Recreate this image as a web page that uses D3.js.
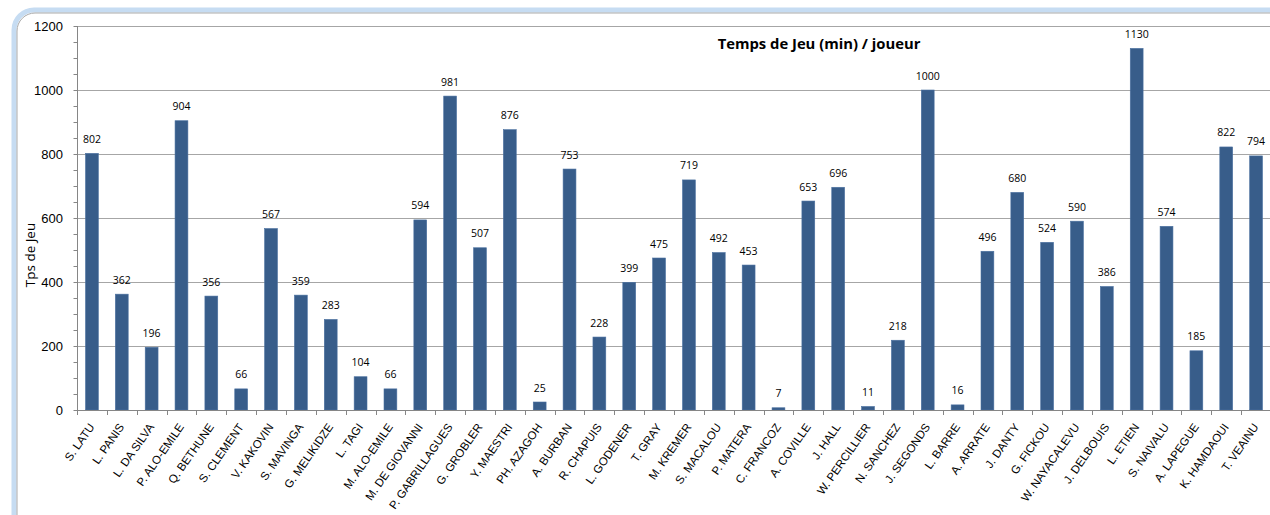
<!DOCTYPE html>
<html>
<head>
<meta charset="utf-8">
<script src="https://cdn.jsdelivr.net/npm/d3@7"></script>
<style>
  body { margin: 0; background: #fff; }
  svg { display: block; }
</style>
</head>
<body>
<div id="chart"></div>
<script>
const players = ["S. LATU", "L.  PANIS", "L. DA SILVA", "P. ALO-EMILE", "Q. BETHUNE", "S. CLEMENT", "V. KAKOVIN",
  "S. MAVINGA", "G. MELIKIDZE", "L. TAGI", "M. ALO-EMILE", "M. DE GIOVANNI", "P. GABRILLAGUES", "G. GROBLER",
  "Y.  MAESTRI", "PH. AZAGOH", "A.  BURBAN", "R. CHAPUIS", "L. GODENER", "T.  GRAY", "M. KREMER", "S. MACALOU",
  "P. MATERA", "C. FRANCOZ", "A. COVILLE", "J. HALL", "W. PERCILLIER", "N. SANCHEZ", "J. SEGONDS", "L. BARRE",
  "A. ARRATE", "J. DANTY", "G.  FICKOU", "W. NAYACALEVU", "J. DELBOUIS", "L. ETIEN", "S. NAIVALU", "A. LAPEGUE",
  "K. HAMDAOUI", "T. VEAINU"];
const minutes = [802, 362, 196, 904, 356, 66, 567, 359, 283, 104, 66, 594, 981, 507, 876, 25, 753, 228, 399, 475,
  719, 492, 453, 7, 653, 696, 11, 218, 1000, 16, 496, 680, 524, 590, 386, 1130, 574, 185, 822, 794];
const yTicks = [0, 200, 400, 600, 800, 1000, 1200];
const title = "Temps de Jeu (min) / joueur";
const yTitle = "Tps de Jeu";

const width = 1270, height = 515;
const svg = d3.select("#chart").append("svg")
  .attr("width", width).attr("height", height);

// outer frame (clipped on right / bottom)
svg.append("rect")
  .attr("x", 14).attr("y", 10).attr("width", 1300).attr("height", 560)
  .attr("rx", 20)
  .attr("fill", "none").attr("stroke", "#c6dcf2").attr("stroke-width", 5);
svg.append("rect")
  .attr("x", 17).attr("y", 13).attr("width", 1300).attr("height", 560)
  .attr("rx", 18)
  .attr("fill", "#fff").attr("stroke", "#a9a9a9").attr("stroke-width", 1);

const x = d3.scaleBand().domain(players).range([77, 1271]).paddingInner(0.57).paddingOuter(0.285);
const y = d3.scaleLinear().domain([0, 1200]).range([410, 26]);

// gridlines
svg.append("g").selectAll("line").data(yTicks.filter(d => d > 0)).join("line")
  .attr("x1", 77).attr("x2", 1271)
  .attr("y1", d => Math.round(y(d)) + 0.5).attr("y2", d => Math.round(y(d)) + 0.5)
  .attr("stroke", "#a6a6a6");

// y axis
const yAxis = svg.append("g").attr("transform", "translate(77.5,0)")
  .call(d3.axisLeft(y).tickValues(d3.range(0, 1201, 50)).tickSize(4).tickFormat(""));
yAxis.selectAll("path, line").attr("stroke", "#868686");
yAxis.select(".domain").attr("d", `M0,${y(1200)}V${y(0)}`);

svg.append("g").selectAll("text").data(yTicks).join("text")
  .attr("x", 63).attr("y", d => y(d) + 5)
  .attr("text-anchor", "end")
  .attr("font-family", "'Liberation Sans', Arial, sans-serif")
  .attr("font-size", 13).attr("fill", "#000")
  .text(d => d);

svg.append("text")
  .attr("transform", "translate(35,255) rotate(-90)")
  .attr("text-anchor", "middle")
  .attr("font-family", "'Open Sans', 'Noto Sans', sans-serif")
  .attr("font-size", 13.5).attr("fill", "#000")
  .text(yTitle);

// bars
svg.append("g").selectAll("rect").data(minutes).join("rect")
  .attr("x", (d, i) => x(players[i]))
  .attr("y", d => y(d))
  .attr("width", x.bandwidth())
  .attr("height", d => y(0) - y(d))
  .attr("fill", "#385d8a")
  .attr("stroke", "#4a70a0").attr("stroke-width", 0.6);

// value labels
svg.append("g").selectAll("text").data(minutes).join("text")
  .attr("x", (d, i) => x(players[i]) + x.bandwidth() / 2)
  .attr("y", d => y(d) - 10.5)
  .attr("text-anchor", "middle")
  .attr("font-family", "'Open Sans', 'Noto Sans', sans-serif")
  .attr("font-size", 10.5).attr("fill", "#000")
  .text(d => d);

// x axis
const step = x.step();
const xAxis = svg.append("g");
xAxis.append("line")
  .attr("x1", 77).attr("x2", 1271).attr("y1", 410.5).attr("y2", 410.5)
  .attr("stroke", "#868686");
xAxis.selectAll(".tk").data(d3.range(0, players.length + 1)).join("line")
  .attr("class", "tk")
  .attr("x1", i => Math.round(77 + i * step) + 0.5).attr("x2", i => Math.round(77 + i * step) + 0.5)
  .attr("y1", 410).attr("y2", 415)
  .attr("stroke", "#868686");

xAxis.selectAll("text").data(players).join("text")
  .attr("transform", d => `translate(${x(d) + x.bandwidth() / 2 + 3},427) rotate(-55)`)
  .attr("text-anchor", "end")
  .attr("font-family", "'Liberation Sans', Arial, sans-serif")
  .attr("font-size", 11.5).attr("fill", "#000")
  .text(d => d);

// title
svg.append("text")
  .attr("x", 819).attr("y", 49)
  .attr("text-anchor", "middle")
  .attr("font-family", "'Open Sans', 'Noto Sans', sans-serif")
  .attr("font-weight", "bold")
  .attr("font-size", 14.8).attr("fill", "#000")
  .text(title);
</script>
</body>
</html>
